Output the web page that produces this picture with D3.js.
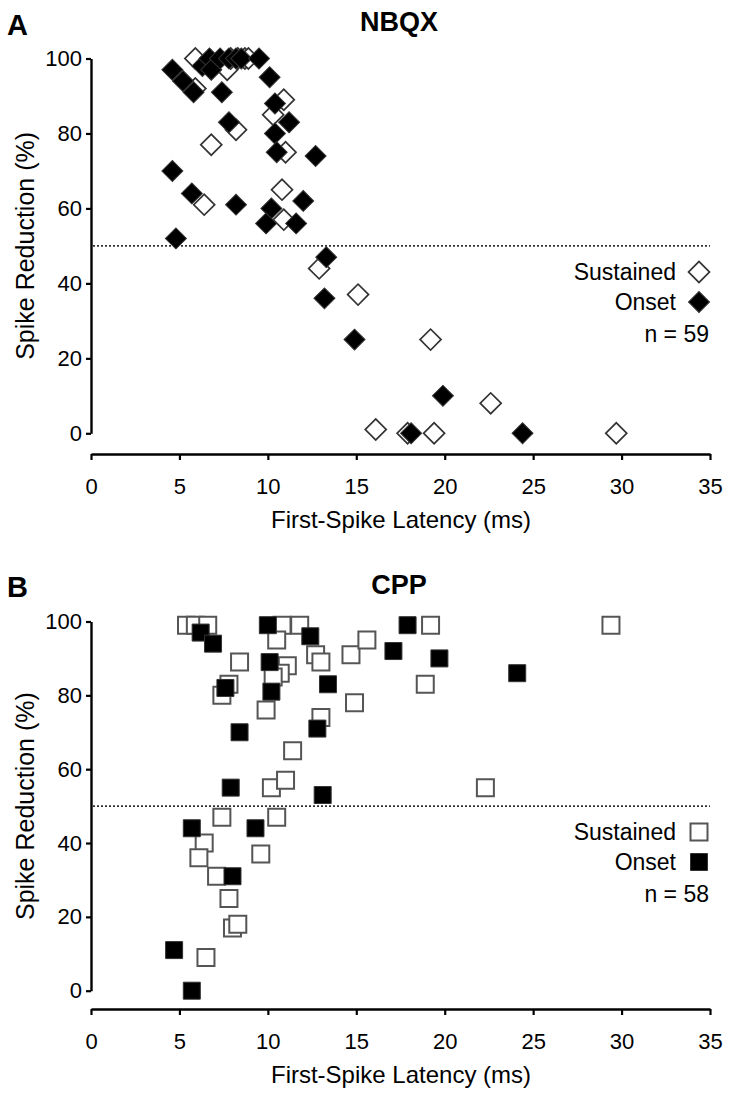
<!DOCTYPE html>
<html>
<head>
<meta charset="utf-8">
<script src="https://cdn.jsdelivr.net/npm/d3@7"></script>
<style>
  html, body { margin: 0; padding: 0; background: #fff; }
  svg { display: block; }
  text { font-family: "Liberation Sans", Arial, sans-serif; fill: #000; }
</style>
</head>
<body>
<svg id="chart" width="750" height="1099"></svg>
<script>
// ---------- data ----------
const xTicks = [0, 5, 10, 15, 20, 25, 30, 35];
const yTicks = [0, 20, 40, 60, 80, 100];
const threshold = 50;

// Panel A (NBQX)
const nbqxSustainedX = [5.9, 5.9, 7.7, 7.9, 8.3, 8.7, 8.9, 10.9, 10.3, 8.2, 6.8, 11.0, 10.8, 6.4, 10.9, 12.9, 15.1, 19.2, 22.6, 16.1, 17.9, 19.4, 29.7];
const nbqxSustainedY = [100, 92, 97, 100, 100, 100, 100, 89, 85, 81, 77, 75, 65, 61, 57, 44, 37, 25, 8, 1, 0, 0, 0];
const nbqxOnsetX = [4.6, 5.2, 5.8, 6.3, 6.7, 6.8, 7.3, 7.8, 8.2, 8.5, 9.5, 7.4, 10.1, 10.4, 11.2, 7.8, 10.4, 10.5, 12.7, 4.6, 5.7, 8.2, 12.0, 10.2, 9.9, 11.6, 4.8, 13.3, 13.2, 14.9, 19.9, 18.1, 24.4];
const nbqxOnsetY = [97, 94, 91, 98, 100, 97, 100, 100, 100, 100, 100, 91, 95, 88, 83, 83, 80, 75, 74, 70, 64, 61, 62, 60, 56, 56, 52, 47, 36, 25, 10, 0, 0];

// Panel B (CPP)
const cppSustainedX = [5.4, 5.9, 6.6, 8.4, 7.8, 7.4, 10.8, 11.8, 10.5, 12.7, 13.0, 14.7, 11.1, 10.7, 10.3, 9.9, 14.9, 13.0, 11.4, 10.2, 11.0, 19.2, 29.4, 15.6, 18.9, 22.3, 7.4, 10.5, 6.4, 6.1, 9.6, 7.1, 7.8, 8.0, 8.3, 6.5];
const cppSustainedY = [99, 99, 99, 89, 83, 80, 99, 99, 95, 91, 89, 91, 88, 86, 85, 76, 78, 74, 65, 55, 57, 99, 99, 95, 83, 55, 47, 47, 40, 36, 37, 31, 25, 17, 18, 9];
const cppOnsetX = [6.2, 6.9, 7.6, 8.4, 10.0, 12.4, 10.1, 10.2, 13.4, 12.8, 7.9, 13.1, 17.9, 17.1, 19.7, 24.1, 5.7, 9.3, 8.0, 4.7, 5.7];
const cppOnsetY = [97, 94, 82, 70, 99, 96, 89, 81, 83, 71, 55, 53, 99, 92, 90, 86, 44, 44, 31, 11, 0];

// ---------- drawing ----------
const svg = d3.select("#chart");
const FONT = '"Liberation Sans", Arial, sans-serif';

const x = d3.scaleLinear().domain([0, 35]).range([91, 710]);

function zip(xs, ys) { return xs.map((v, i) => ({x: v, y: ys[i]})); }

function drawPanel(cfg) {
  const y = d3.scaleLinear().domain([0, 100]).range([cfg.y0, cfg.y100]);
  const g = svg.append("g");

  // panel letter
  g.append("text").attr("x", 7).attr("y", cfg.letterY)
    .attr("font-size", 29).attr("font-weight", "bold").text(cfg.letter);
  // title
  g.append("text").attr("x", 399).attr("y", cfg.titleY)
    .attr("text-anchor", "middle").attr("font-size", 27).attr("font-weight", "bold").text(cfg.title);

  // y axis
  const ya = g.append("g").attr("transform", `translate(${x(0)},0)`)
    .call(d3.axisLeft(y).tickValues(yTicks).tickSize(5).tickSizeOuter(0).tickPadding(4));
  ya.select(".domain").attr("stroke", "#000").attr("stroke-width", 2.4);
  ya.selectAll(".tick line").attr("stroke", "#000").attr("stroke-width", 2.2);
  ya.selectAll(".tick text").attr("font-size", 22).attr("font-family", FONT).attr("fill", "#000");

  // x axis
  const xa = g.append("g").attr("transform", `translate(0,${cfg.xAxisY})`)
    .call(d3.axisBottom(x).tickValues(xTicks).tickSize(6).tickSizeOuter(0).tickPadding(18));
  xa.select(".domain").attr("stroke", "#000").attr("stroke-width", 2.4);
  xa.selectAll(".tick line").attr("stroke", "#000").attr("stroke-width", 2.2);
  xa.selectAll(".tick text").attr("font-size", 22).attr("font-family", FONT).attr("fill", "#000");

  // axis titles
  g.append("text").attr("x", 401).attr("y", cfg.xAxisY + 74)
    .attr("text-anchor", "middle").attr("font-size", 24).text("First-Spike Latency (ms)");
  g.append("text")
    .attr("transform", `translate(34,${(cfg.y0 + cfg.y100) / 2}) rotate(-90)`)
    .attr("text-anchor", "middle").attr("font-size", 25).text("Spike Reduction (%)");

  // threshold line
  g.append("line")
    .attr("x1", x(0) + 2).attr("x2", x(35))
    .attr("y1", y(threshold)).attr("y2", y(threshold))
    .attr("stroke", "#333").attr("stroke-width", 1.6).attr("stroke-dasharray", "2,2");

  const sym = cfg.shape === "diamond"
    ? d3.symbol(d3.symbolSquare, 220)
    : d3.symbol(d3.symbolSquare, 289);
  const rot = cfg.shape === "diamond" ? " rotate(45)" : "";
  const openStroke = cfg.shape === "diamond" ? "#333" : "#555";
  const openWidth = cfg.shape === "diamond" ? 1.7 : 2;

  // sustained (open)
  g.append("g").selectAll("path").data(zip(cfg.sx, cfg.sy)).join("path")
    .attr("d", sym)
    .attr("transform", d => `translate(${x(d.x)},${y(d.y)})${rot}`)
    .attr("fill", "#fff").attr("stroke", openStroke).attr("stroke-width", openWidth);
  // onset (filled)
  g.append("g").selectAll("path").data(zip(cfg.ox, cfg.oy)).join("path")
    .attr("d", sym)
    .attr("transform", d => `translate(${x(d.x)},${y(d.y)})${rot}`)
    .attr("fill", "#000").attr("stroke", "#333").attr("stroke-width", 1);

  // legend
  const lg = g.append("g");
  lg.append("text").attr("x", 676).attr("y", cfg.legY).attr("text-anchor", "end")
    .attr("font-size", 23).text("Sustained");
  lg.append("text").attr("x", 676).attr("y", cfg.legY + 30).attr("text-anchor", "end")
    .attr("font-size", 23).text("Onset");
  lg.append("text").attr("x", 709).attr("y", cfg.legY + 62).attr("text-anchor", "end")
    .attr("font-size", 23).text(cfg.n);
  lg.append("path").attr("d", sym)
    .attr("transform", `translate(699,${cfg.legY - 8})${rot}`)
    .attr("fill", "#fff").attr("stroke", openStroke).attr("stroke-width", openWidth);
  lg.append("path").attr("d", sym)
    .attr("transform", `translate(699,${cfg.legY + 22})${rot}`)
    .attr("fill", "#000").attr("stroke", "#333").attr("stroke-width", 1);
}

drawPanel({
  letter: "A", letterY: 35, title: "NBQX", titleY: 31,
  y0: 433.3, y100: 58.5, xAxisY: 454,
  sx: nbqxSustainedX, sy: nbqxSustainedY, ox: nbqxOnsetX, oy: nbqxOnsetY,
  shape: "diamond", legY: 280, n: "n = 59"
});

drawPanel({
  letter: "B", letterY: 597, title: "CPP", titleY: 594,
  y0: 990.7, y100: 621.5, xAxisY: 1009,
  sx: cppSustainedX, sy: cppSustainedY, ox: cppOnsetX, oy: cppOnsetY,
  shape: "square", legY: 840, n: "n = 58"
});
</script>
</body>
</html>
